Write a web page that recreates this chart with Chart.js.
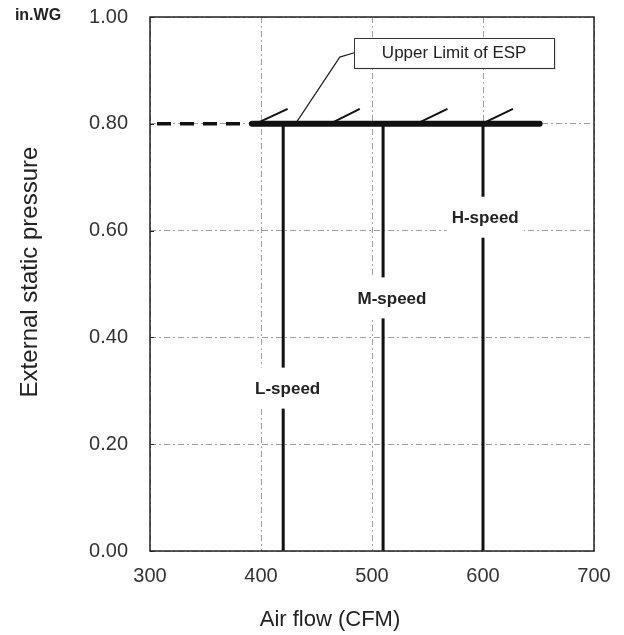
<!DOCTYPE html>
<html><head><meta charset="utf-8">
<script src="https://cdn.jsdelivr.net/npm/chart.js@4"></script>
<style>html,body{margin:0;padding:0;background:#fff}canvas{display:block}</style>
</head><body>
<canvas id="c" width="624" height="635"></canvas>
<script>
const FONT = '"Liberation Sans", Arial, Helvetica, sans-serif';

// ---- data ----
const xTicks = [300, 400, 500, 600, 700];
const yTicks = [0, 0.2, 0.4, 0.6, 0.8, 1.0];
const speedNames = ['L-speed', 'M-speed', 'H-speed'];
const speedFlows = [420, 510, 600];          // CFM of each fan speed
const speedTopESP = [0.8, 0.8, 0.8];         // in.WG top of each speed line
const speedLabelFlow = [424, 518, 602];
const speedLabelESP = [0.305, 0.474, 0.625];
const espLimit = 0.8;
const espDashFrom = 300;
const espLineStart = 392;
const espLineEnd = 651;
const hatchStarts = [395, 462, 540, 599];
const hatchEnds = [424, 489, 568, 627];
const hatchTopESP = 0.828;
const leaderFlow = [431, 471, 484];
const leaderESP = [0.8, 0.925, 0.933];
const espLabel = 'Upper Limit of ESP';
const espLabelFlow = 574;
const espLabelESP = 0.9335;
const unitLabel = 'in.WG';
const xTitle = 'Air flow (CFM)';
const yTitle = 'External static pressure';

// ---- datasets ----
const BLACK = '#111';
const datasets = [];
datasets.push({
  data: [{x: espDashFrom, y: espLimit}, {x: espLineStart, y: espLimit}],
  borderColor: BLACK, borderWidth: 3.5, borderDash: [14, 9], borderDashOffset: 16
});
speedFlows.forEach((f, i) => datasets.push({
  data: [{x: f, y: speedTopESP[i]}, {x: f, y: 0}],
  borderColor: BLACK, borderWidth: 3
}));
datasets.push({
  data: [{x: espLineStart, y: espLimit}, {x: espLineEnd, y: espLimit}],
  borderColor: BLACK, borderWidth: 6, borderCapStyle: 'round'
});
hatchStarts.forEach((s, i) => datasets.push({
  data: [{x: s, y: espLimit}, {x: hatchEnds[i], y: hatchTopESP}],
  borderColor: BLACK, borderWidth: 2
}));
datasets.push({
  data: leaderFlow.map((f, i) => ({x: f, y: leaderESP[i]})),
  borderColor: '#222', borderWidth: 1.2
});
datasets.forEach(d => { d.pointRadius = 0; d.fill = false; d.tension = 0; });

const deco = {
  id: 'deco',
  afterDatasetsDraw(chart) {
    const {ctx, chartArea: a, scales: {x, y}} = chart;
    ctx.save();
    // speed labels with white backgrounds
    ctx.font = 'bold 17px ' + FONT;
    ctx.textAlign = 'center';
    ctx.textBaseline = 'middle';
    speedNames.forEach((n, i) => {
      const cx = x.getPixelForValue(speedLabelFlow[i]);
      const cy = y.getPixelForValue(speedLabelESP[i]);
      const w = ctx.measureText(n).width + 10, h = 41;
      ctx.fillStyle = '#fff';
      ctx.fillRect(cx - w / 2, cy - h / 2, w, h);
      ctx.fillStyle = '#222';
      ctx.fillText(n, cx, cy + 1);
    });
    // frame
    ctx.strokeStyle = '#222';
    ctx.lineWidth = 1.5;
    ctx.strokeRect(a.left, a.top, a.right - a.left, a.bottom - a.top);
    // small inward ticks on y axis
    ctx.lineWidth = 1;
    yTicks.forEach(v => {
      const py = Math.round(y.getPixelForValue(v)) + 0.5;
      ctx.beginPath(); ctx.moveTo(a.left, py); ctx.lineTo(a.left + 4, py); ctx.stroke();
    });
    // ESP label box
    ctx.font = '17px ' + FONT;
    const ex = x.getPixelForValue(espLabelFlow), ey = y.getPixelForValue(espLabelESP);
    const bw = 200, bh = 30;
    ctx.fillStyle = 'rgba(0,0,0,0.12)';
    ctx.fillRect(ex - bw / 2 + 2, ey - bh / 2 + 2, bw, bh);
    ctx.fillStyle = '#fff';
    ctx.fillRect(ex - bw / 2, ey - bh / 2, bw, bh);
    ctx.strokeStyle = '#333';
    ctx.lineWidth = 1;
    ctx.strokeRect(Math.round(ex - bw / 2) + 0.5, Math.round(ey - bh / 2) + 0.5, bw, bh);
    ctx.fillStyle = '#222';
    ctx.fillText(espLabel, ex, ey + 1);
    // unit label
    ctx.font = 'bold 16px ' + FONT;
    ctx.fillStyle = '#222';
    ctx.fillText(unitLabel, 38, 16);
    // axis titles
    ctx.font = '22px ' + FONT;
    ctx.fillStyle = '#222';
    ctx.fillText(xTitle, 330, 620);
    ctx.save();
    ctx.translate(30, 272);
    ctx.rotate(-Math.PI / 2);
    ctx.font = '24px ' + FONT;
    ctx.fillText(yTitle, 0, 0);
    ctx.restore();
    ctx.restore();
  }
};

new Chart(document.getElementById('c'), {
  type: 'line',
  data: {datasets},
  options: {
    responsive: false,
    devicePixelRatio: 1,
    animation: false,
    layout: {padding: {top: 17, right: 30, left: 0, bottom: 0}},
    plugins: {legend: {display: false}, tooltip: {enabled: false}},
    scales: {
      x: {
        type: 'linear', min: xTicks[0], max: xTicks[xTicks.length - 1],
        afterBuildTicks: s => { s.ticks = xTicks.map(v => ({value: v})); },
        afterFit: s => { s.height = 84; s.paddingLeft = 0; s.paddingRight = 0; },
        grid: {color: '#a0a0a0', lineWidth: 1, drawTicks: false},
        border: {display: false, dash: [6, 3, 2, 3]},
        ticks: {padding: 13, color: '#333', font: {family: FONT, size: 20}, callback: v => String(v), maxRotation: 0}
      },
      y: {
        type: 'linear', min: yTicks[0], max: yTicks[yTicks.length - 1],
        afterBuildTicks: s => { s.ticks = yTicks.map(v => ({value: v})); },
        afterFit: s => { s.width = 150; s.paddingTop = 0; s.paddingBottom = 0; },
        grid: {color: '#a0a0a0', lineWidth: 1, drawTicks: false},
        border: {display: false, dash: [6, 3, 2, 3]},
        ticks: {padding: 22, color: '#333', font: {family: FONT, size: 20}, callback: v => Number(v).toFixed(2)}
      }
    }
  },
  plugins: [deco]
});
</script>
</body></html>
